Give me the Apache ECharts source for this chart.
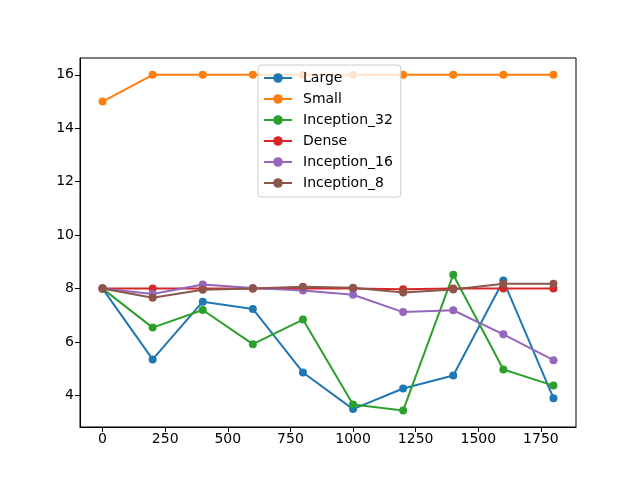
<!DOCTYPE html>
<html>
<head>
<meta charset="utf-8">
<script src="https://cdn.jsdelivr.net/npm/echarts@6/dist/echarts.min.js"></script>
<style>html,body{margin:0;padding:0;background:#fff}#c{width:640px;height:480px}</style>
</head>
<body>
<div id="c"></div>
<script>
const xValues = [0, 200, 400, 600, 800, 1000, 1200, 1400, 1600, 1800];
const seriesNames = ['Large', 'Small', 'Inception_32', 'Dense', 'Inception_16', 'Inception_8'];
const large       = [8.0, 5.35, 7.51, 7.24, 4.86, 3.49, 4.26, 4.75, 8.3, 3.9];
const small       = [15, 16, 16, 16, 16, 16, 16, 16, 16, 16];
const inception32 = [8.0, 6.54, 7.2, 5.92, 6.84, 3.66, 3.44, 8.52, 4.97, 4.37];
const dense       = [8.0, 8.0, 8.0, 8.0, 8.0, 8.0, 7.98, 8.0, 8.0, 8.0];
const inception16 = [8.0, 7.8, 8.15, 8.02, 7.93, 7.77, 7.12, 7.19, 6.29, 5.32];
const inception8  = [8.0, 7.66, 7.96, 8.0, 8.07, 8.03, 7.85, 7.97, 8.18, 8.18];
const xTicks = [0, 250, 500, 750, 1000, 1250, 1500, 1750];
const yTicks = [4, 6, 8, 10, 12, 14, 16];
const colors = ['#1f77b4', '#ff7f0e', '#2ca02c', '#d62728', '#9467bd', '#8c564b'];

const allData = [large, small, inception32, dense, inception16, inception8];
const chart = echarts.init(document.getElementById('c'), null, {renderer: 'canvas'});
const font = 'DejaVu Sans';
chart.setOption({
  animation: false,
  backgroundColor: '#fff',
  grid: {left: 80, right: 64, top: 58, bottom: 53, show: true, borderColor: '#000', borderWidth: 1, backgroundColor: 'transparent'},
  xAxis: {
    type: 'value', min: -90, max: 1890,
    splitLine: {show: false},
    axisLine: {show: true, onZero: false, lineStyle: {color: '#000', width: 1}},
    axisTick: {show: true, length: 5, customValues: xTicks, lineStyle: {color: '#000'}},
    axisLabel: {customValues: xTicks, color: '#000', fontFamily: font, fontSize: 14, margin: 5,
      formatter: v => String(v)}
  },
  yAxis: {
    type: 'value', min: 2.82, max: 16.63,
    splitLine: {show: false},
    axisLine: {show: true, onZero: false, lineStyle: {color: '#000', width: 1}},
    axisTick: {show: true, length: 5, customValues: yTicks, lineStyle: {color: '#000'}},
    axisLabel: {customValues: yTicks, color: '#000', fontFamily: font, fontSize: 14, margin: 6,
      formatter: v => String(v)}
  },
  legend: {
    orient: 'vertical', left: 258, top: 65,
    data: seriesNames,
    itemWidth: 28, itemHeight: 12, itemGap: 5,
    padding: [5, 8, 6, 5],
    backgroundColor: 'rgba(255,255,255,0.8)',
    borderColor: '#cccccc', borderWidth: 1, borderRadius: 3,
    textStyle: {color: '#000', fontFamily: font, fontSize: 14, padding: [0, 0, 0, 6], lineHeight: 16}
  },
  series: seriesNames.map((n, i) => ({
    name: n, type: 'line',
    data: xValues.map((x, j) => [x, allData[i][j]]),
    symbol: 'circle', symbolSize: 8, showSymbol: true,
    color: colors[i],
    lineStyle: {width: 2, color: colors[i]},
    itemStyle: {color: colors[i]},
    z: 2 + i
  }))
});
</script>
</body>
</html>
